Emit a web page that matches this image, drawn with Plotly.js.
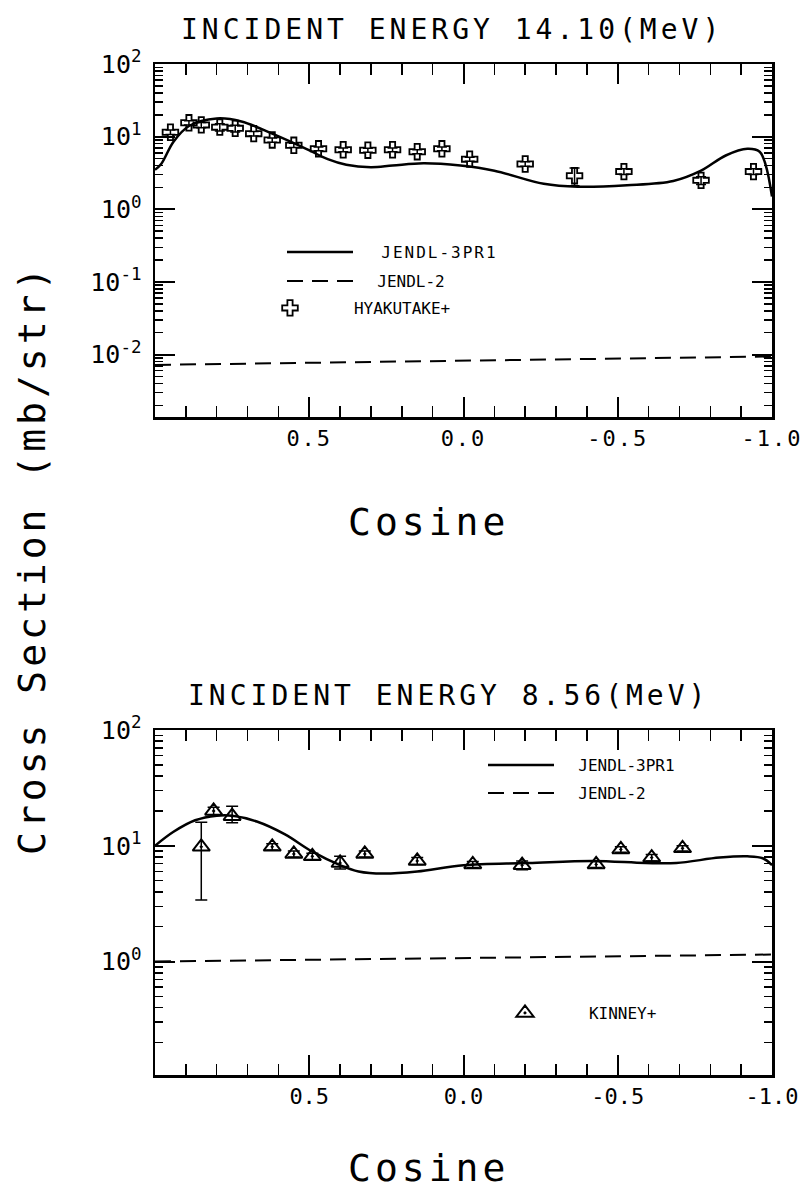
<!DOCTYPE html>
<html>
<head>
<meta charset="utf-8">
<script src="https://cdn.plot.ly/plotly-3.0.1.min.js"></script>
<style>
  body { margin:0; padding:0; background:#fff; }
  #chart { width:804px; height:1196px; }
  .xtick text { letter-spacing: 2px; }
  .annotation-text { letter-spacing: 4px; }
  .legendtext { letter-spacing: 2px; }
</style>
</head>
<body>
<div id="chart"></div>
<script>
// ---------------- DATA ----------------
// Top panel: incident energy 14.10 MeV
const topTitle = "INCIDENT ENERGY 14.10(MeV)";
const topCurveCos = [1.0, 0.98, 0.94, 0.89, 0.80, 0.72, 0.62, 0.51, 0.44, 0.38, 0.30, 0.23, 0.13, 0.01, -0.10, -0.26, -0.37, -0.53, -0.68, -0.77, -0.85, -0.92, -0.96, -0.98, -1.0];
const topCurveVal = [3.5, 4.2, 8.5, 14, 17.8, 16.2, 11, 6.8, 4.9, 4.1, 3.8, 4.0, 4.3, 4.0, 3.4, 2.24, 2.04, 2.14, 2.45, 3.4, 5.5, 6.8, 6.2, 4.0, 1.5];
const topJendl2Cos = [1.0, -1.0];
const topJendl2Val = [0.0072, 0.0094];
const hyakCos = [0.95, 0.89, 0.85, 0.79, 0.74, 0.68, 0.62, 0.55, 0.47, 0.39, 0.31, 0.23, 0.15, 0.07, -0.02, -0.20, -0.36, -0.52, -0.77, -0.94];
const hyakVal = [11.5, 15.5, 14.5, 13.5, 13, 11, 9, 7.6, 6.8, 6.6, 6.5, 6.6, 6.2, 6.8, 4.9, 4.2, 2.9, 3.3, 2.5, 3.3];
const hyakErr = [0.8, 1.0, 1.2, 1.5, 1.4, 0.8, 0.6, 0.5, 0.4, 0.4, 0.4, 0.4, 0.4, 0.4, 0.3, 0.3, 0.8, 0.3, 0.3, 0.3];

// Bottom panel: incident energy 8.56 MeV
const botTitle = "INCIDENT ENERGY 8.56(MeV)";
const botCurveCos = [1.0, 0.94, 0.87, 0.80, 0.75, 0.67, 0.58, 0.49, 0.40, 0.34, 0.26, 0.15, 0.0, -0.21, -0.42, -0.59, -0.69, -0.83, -0.92, -0.97, -1.0];
const botCurveVal = [10, 13.2, 16.6, 18.2, 18.2, 16.2, 12.6, 8.9, 6.8, 6.0, 5.75, 6.0, 6.8, 7.1, 7.4, 7.1, 7.1, 7.9, 8.1, 7.8, 6.8];
const botJendl2Cos = [1.0, -1.0];
const botJendl2Val = [1.0, 1.15];
const kinCos = [0.85, 0.81, 0.75, 0.62, 0.55, 0.49, 0.40, 0.32, 0.15, -0.03, -0.19, -0.43, -0.51, -0.61, -0.71];
const kinVal = [9.8, 20, 18, 9.8, 8.5, 8.1, 7.1, 8.5, 7.4, 6.9, 6.8, 6.9, 9.3, 7.9, 9.5];
const kinErrPlus = [6.2, 1.5, 4.0, 0.6, 0.5, 0.5, 1.0, 0.5, 0.5, 0.4, 0.6, 0.4, 0.5, 0.5, 0.5];
const kinErrMinus = [6.4, 1.5, 2.2, 0.6, 0.5, 0.5, 0.8, 0.5, 0.5, 0.4, 0.6, 0.4, 0.5, 0.5, 0.5];

// Axis tick labels
const xTickVals = [0.5, 0.0, -0.5, -1.0];
const xTickText = ["0.5", "0.0", "-0.5", "-1.0"];
const yTopTickVals = [0.01, 0.1, 1, 10, 100];
const yTopTickText = ["10<sup>-2</sup>", "10<sup>-1</sup>", "10<sup>0</sup>", "10<sup>1</sup>", "10<sup>2</sup>"];
const yBotTickVals = [1, 10, 100];
const yBotTickText = ["10<sup>0</sup>", "10<sup>1</sup>", "10<sup>2</sup>"];

const xLabel = "Cosine";
const yLabel = "Cross Section (mb/str)";

// ---------------- STYLE ----------------
const FONT = "DejaVu Sans Mono, monospace";
const W = 804, H = 1196;
const px = v => v / W;
const py = v => 1 - v / H;
const NB2 = '\u00A0\u00A0';
const NB3 = '\u00A0\u00A0\u00A0';

const traces = [
  { x: topCurveCos, y: topCurveVal, xaxis: 'x', yaxis: 'y', mode: 'lines', name: NB2 + 'JENDL-3PR1',
    line: { color: '#000', width: 2.5, shape: 'spline', smoothing: 1 }, legend: 'legend' },
  { x: topJendl2Cos, y: topJendl2Val, xaxis: 'x', yaxis: 'y', mode: 'lines', name: NB2 + 'JENDL-2',
    line: { color: '#000', width: 2, dash: '16px,9px' }, legend: 'legend2' },
  { x: hyakCos, y: hyakVal, xaxis: 'x', yaxis: 'y', mode: 'markers', name: NB3 + 'HYAKUTAKE+',
    marker: { symbol: 'cross-open', size: 13, color: '#000', line: { width: 1.8, color: '#000' } },
    error_y: { type: 'data', array: hyakErr, visible: true, color: '#000', thickness: 1.5, width: 5 },
    legend: 'legend3' },
  { x: botCurveCos, y: botCurveVal, xaxis: 'x2', yaxis: 'y2', mode: 'lines', name: NB2 + 'JENDL-3PR1',
    line: { color: '#000', width: 2.5, shape: 'spline', smoothing: 1 }, legend: 'legend4' },
  { x: botJendl2Cos, y: botJendl2Val, xaxis: 'x2', yaxis: 'y2', mode: 'lines', name: NB2 + 'JENDL-2',
    line: { color: '#000', width: 2, dash: '16px,9px' }, legend: 'legend5' },
  { x: kinCos, y: kinVal, xaxis: 'x2', yaxis: 'y2', mode: 'markers', name: NB3 + 'KINNEY+',
    marker: { symbol: 'triangle-up-open-dot', size: 15, color: '#000', line: { width: 2, color: '#000' } },
    error_y: { type: 'data', array: kinErrPlus, arrayminus: kinErrMinus, visible: true, color: '#000', thickness: 1.5, width: 6 },
    legend: 'legend6' }
];

function xAxis(anchor) {
  return {
    domain: [px(155), px(772)], anchor: anchor, range: [1, -1],
    tickmode: 'array', tickvals: xTickVals, ticktext: xTickText,
    ticks: 'inside', ticklen: 20, tickwidth: 2, tickcolor: '#000',
    minor: { tickmode: 'linear', tick0: 0, dtick: 0.1, ticks: 'inside', ticklen: 11, tickwidth: 1.5, tickcolor: '#000', showgrid: false },
    showline: true, linewidth: 2.5, linecolor: '#000', mirror: 'allticks',
    showgrid: false, zeroline: false, ticklabeloverflow: 'allow',
    tickfont: { family: FONT, size: 22, color: '#000' }
  };
}
function yAxis(domainPx, range, tv, tt, anchor) {
  return {
    domain: [py(domainPx[1]), py(domainPx[0])], anchor: anchor, type: 'log', range: range,
    tickmode: 'array', tickvals: tv, ticktext: tt,
    ticks: 'inside', ticklen: 20, tickwidth: 2, tickcolor: '#000',
    minor: { dtick: 'D1', ticks: 'inside', ticklen: 8, tickwidth: 1.5, tickcolor: '#000', showgrid: false },
    showline: true, linewidth: 2.5, linecolor: '#000', mirror: 'allticks',
    showgrid: false, zeroline: false, ticklabeloverflow: 'allow',
    tickfont: { family: FONT, size: 25, color: '#000' }, ticklabelstandoff: 6
  };
}

function legendAt(xPx, yPx, iw) {
  return { x: px(xPx), y: py(yPx), xanchor: 'left', yanchor: 'middle', bgcolor: 'rgba(0,0,0,0)',
           borderwidth: 0, itemwidth: iw, font: { family: FONT, size: 16, color: '#000' } };
}

const layout = {
  width: W, height: H,
  margin: { l: 0, r: 0, t: 0, b: 0 },
  paper_bgcolor: '#fff', plot_bgcolor: '#fff',
  showlegend: true,
  xaxis: xAxis('y'),
  yaxis: yAxis([64, 417], [-2.86, 2], yTopTickVals, yTopTickText, 'x'),
  xaxis2: xAxis('y2'),
  yaxis2: yAxis([730, 1075], [-0.98, 2], yBotTickVals, yBotTickText, 'x2'),
  legend:  legendAt(282, 252, 66),
  legend2: legendAt(282, 281, 66),
  legend3: legendAt(255, 308, 60),
  legend4: legendAt(483, 765, 66),
  legend5: legendAt(483, 793, 66),
  legend6: legendAt(490, 1013, 60),
  annotations: [
    { text: topTitle, x: px(452), y: py(30), xref: 'paper', yref: 'paper', xanchor: 'center', yanchor: 'middle', showarrow: false,
      font: { family: FONT, size: 28, color: '#000' } },
    { text: botTitle, x: px(448), y: py(696), xref: 'paper', yref: 'paper', xanchor: 'center', yanchor: 'middle', showarrow: false,
      font: { family: FONT, size: 28, color: '#000' } },
    { text: xLabel, x: px(428), y: py(522), xref: 'paper', yref: 'paper', xanchor: 'center', yanchor: 'middle', showarrow: false,
      font: { family: FONT, size: 38, color: '#000' } },
    { text: xLabel, x: px(428), y: py(1168), xref: 'paper', yref: 'paper', xanchor: 'center', yanchor: 'middle', showarrow: false,
      font: { family: FONT, size: 38, color: '#000' } },
    { text: yLabel, x: px(32), y: py(560), xref: 'paper', yref: 'paper', xanchor: 'center', yanchor: 'middle', showarrow: false, textangle: -90,
      font: { family: FONT, size: 38, color: '#000' } }
  ]
};

Plotly.newPlot('chart', traces, layout, { displayModeBar: false, staticPlot: true });
</script>
</body>
</html>
